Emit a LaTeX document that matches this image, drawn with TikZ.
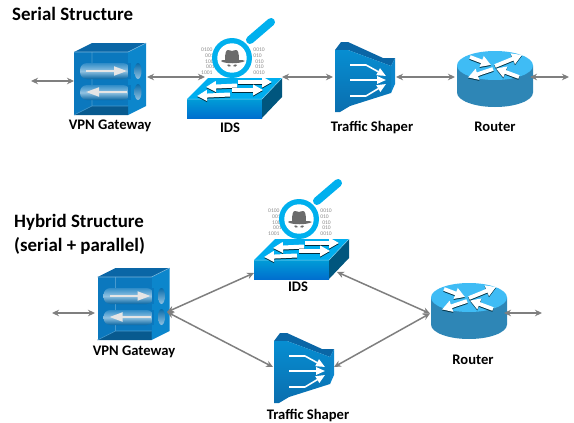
\documentclass[tikz,border=0pt]{standalone}
\usepackage{fontspec}
\setmainfont{Carlito}
\usetikzlibrary{arrows.meta}
\definecolor{conn}{HTML}{7F7F7F}
\definecolor{vfront}{HTML}{0B78BE}
\definecolor{vtop}{HTML}{0A66A6}
\definecolor{vside}{HTML}{0C86CC}
\definecolor{idstop}{HTML}{00AEEF}
\definecolor{idsside}{HTML}{00567E}
\definecolor{rtop}{HTML}{3FBCF5}
\definecolor{rside}{HTML}{2E86B6}
\definecolor{lens}{HTML}{00B0EE}
\definecolor{hatc}{HTML}{6B6B6B}
\tikzset{
  x=1pt,y=-1pt,
  link/.style={draw=conn,line width=1.5pt,{Stealth[length=7pt,width=6.5pt]}-{Stealth[length=7pt,width=6.5pt]}},
  lab/.style={font=\bfseries\fontsize{14.6}{16}\selectfont,inner sep=0pt,text=black},
  ttl/.style={font=\bfseries\fontsize{18.9}{24}\selectfont,inner sep=0pt,anchor=west,text=black,align=left},
  binL/.style={font=\fontsize{5.6}{6}\selectfont,text=black!45,inner sep=0pt,anchor=west},
  binR/.style={font=\fontsize{5.6}{6}\selectfont,text=black!45,inner sep=0pt,anchor=east},
  warrow/.style={draw=white,line width=4pt,-{Triangle[length=10pt,width=10.5pt,fill=white]}},
  sarrow/.style={line width=4pt,-{Triangle[length=10pt,width=10.5pt]}},
  thinw/.style={draw=white,line width=1.6pt,line join=round,-{Triangle[length=9pt,width=7.5pt,fill=white]}},
  vpn/.pic={
    \fill[vtop] (74,52)--(92,43)--(146,43)--(128,52)--cycle;
    \fill[vside] (128,52)--(146,43)--(146,106)--(128,115)--cycle;
    \fill[vfront] (74,52) rectangle (128,115);
    \fill[black!25!vfront] (74,115)--(92,106)--(128,106)--(128,115)--cycle;
    \draw[white!25!vfront,line width=.6pt] (92,52)--(92,106)--(128,106) (92,106)--(74,115);
    \draw[white!45!vfront,line width=.6pt] (74,52)--(128,52)--(146,43);
    \foreach \yy/\hh in {63/16,85/15}{
      \shade[top color=vfront!85!white,bottom color=black!15!vfront,middle color=white!55!vfront,rounded corners=7pt] (80,\yy) rectangle ++(50,\hh);
      \fill[vfront] (128,\yy) rectangle ++(2.5,\hh);
    }
    \shade[top color=black!10!vfront,bottom color=white!55!vfront] (138,71) ellipse[x radius=3.5pt,y radius=8pt];
    \shade[top color=black!10!vfront,bottom color=white!55!vfront] (138,92) ellipse[x radius=3.5pt,y radius=8pt];
    \draw[draw=white!90!black,line width=1.8pt,-{Triangle[length=13pt,width=9pt,fill=white!90!black]}] (86,71)--(127,71);
    \draw[draw=white!90!black,line width=1.8pt,-{Triangle[length=13pt,width=9pt,fill=white!90!black]}] (127,92)--(86,92);
  },
  idsbox/.pic={
    \node[binL] at (201,50) {0100};
    \node[binL] at (205,56) {001};
    \node[binL] at (205,62) {100};
    \node[binL] at (206,67) {001};
    \node[binL] at (201,73) {1001};
    \node[binR] at (265,50) {0010};
    \node[binR] at (262,56) {010};
    \node[binR] at (264,62) {010};
    \node[binR] at (264,67) {010};
    \node[binR] at (265,73) {0010};
    \fill[idstop] (187,99)--(208,78)--(282,78)--(262,99)--cycle;
    \shade[top color=idstop!90!black,bottom color=idstop!75!blue!85!black] (187,99) rectangle (262,118);
    \fill[idsside] (262,99)--(282,78)--(282,97)--(262,118)--cycle;
    \draw[white!50!idstop,line width=.5pt] (187,99)--(262,99)--(282,78);
    \foreach \a/\b/\c/\d in {238/83/272/83,237/86.5/206/88,232/91/263/91,230/95.5/197/97}
      \draw[sarrow,draw=black!75!idstop,fill=black!75!idstop] (\a,\b)--(\c,\d);
    \foreach \a/\b/\c/\d in {238/82/272/82,237/85.5/206/87,232/90/263/90,230/94.5/197/96}
      \draw[warrow] (\a,\b)--(\c,\d);
    \draw[lens,line width=8pt,line cap=round] (250,40)--(271,22);
    \fill[lens] (232,58) circle[radius=20pt];
    \fill[white] (232,58) circle[radius=14.7pt];
    \fill[hatc] (225,60) .. controls (225,53) and (226,50) .. (228,50) .. controls (230,50) and (231,51) .. (232,51) .. controls (233,51) and (234,50) .. (236,50) .. controls (238,50) and (239,53) .. (239,60) .. controls (241,60) and (244,60) .. (245,61) .. controls (240,64) and (224,64) .. (221,61) .. controls (222,60) and (223,60) .. (225,60) -- cycle;
    \fill[hatc] (227,65) .. controls (228,64) and (230,64) .. (231,66) .. controls (229,67) and (228,67) .. (227,65) -- cycle;
    \fill[hatc] (237,65) .. controls (236,64) and (234,64) .. (233,66) .. controls (235,67) and (236,67) .. (237,65) -- cycle;
  },
  shaper/.pic={
    \fill[vtop] (335,50)--(341,42)--(348,42)--(383,58)--(395,58)--(391,66)--(348,50)--cycle;
    \fill[vside] (391,66)--(395,58)--(395,84)--(391,93)--cycle;
    \shade[top color=vfront!60!idstop,bottom color=black!8!vfront] (335,50)--(348,50)--(391,66)--(391,93)--(350,106)--(340,112)--(335,112)--cycle;
    \draw[thinw] (350,65)--(366,65)--(386,76);
    \draw[thinw] (350,80)--(386,80);
    \draw[thinw] (350,96)--(366,96)--(386,84);
  },
  router/.pic={
    \fill[rside] (457,65.5)--(457,92.5) arc[start angle=180,end angle=360,x radius=38pt,y radius=14.5pt]--(533,65.5)--cycle;
    \fill[rtop] (495,65.5) ellipse[x radius=38pt,y radius=14.5pt];
    \foreach \a/\b/\c/\d in {470/57/491/65,519/77/496/68.5,495/66/522/55,493/69/468/77.5}{
      \draw[draw=black!70!idstop,line width=3.8pt,-{Triangle[length=10pt,width=11pt,fill=black!70!idstop]}] (\a,\b+1)--(\c,\d+1);
      \draw[draw=white,line width=3.8pt,-{Triangle[length=10pt,width=11pt,fill=white]}] (\a,\b)--(\c,\d);
    }
  }
}
\begin{document}
\begin{tikzpicture}
\useasboundingbox (0,0) rectangle (574,423);
\node[ttl] (t1) at (12,14) {Serial Structure};
\node[ttl] (t2) at (14,234) {Hybrid Structure\\(serial + parallel)};
\pic at (0,0) {vpn};
\pic at (0,0) {idsbox};
\pic at (0,0) {shaper};
\pic at (0,0) {router};
\node[lab] (lv1) at (110,126) {VPN Gateway};
\node[lab] (li1) at (230,128) {IDS};
\node[lab] (ls1) at (372,128) {Traffic Shaper};
\node[lab] (lr1) at (495,127) {Router};
\coordinate (s0) at (31,81);
\coordinate (v1w) at (74,81);
\coordinate (v1e) at (147,77);
\coordinate (i1w) at (205,77);
\coordinate (i1e) at (282,77);
\coordinate (s1w) at (333,77);
\coordinate (s1e) at (396,77);
\coordinate (r1w) at (455,77);
\coordinate (r1e) at (530,77);
\coordinate (s9) at (569,77);
\draw[link] (s0)--(v1w);
\draw[link] (v1e)--(i1w);
\draw[link] (i1e)--(s1w);
\draw[link] (s1e)--(r1w);
\draw[link] (r1e)--(s9);
\pic at (23.5,225) {vpn};
\pic at (67,161) {idsbox};
\pic at (-61,291) {shaper};
\pic at (-26,232) {router};
\node[lab] (lv2) at (134,352) {VPN Gateway};
\node[lab] (li2) at (298,287) {IDS};
\node[lab] (ls2) at (308,416) {Traffic Shaper};
\node[lab] (lr2) at (473,360) {Router};
\coordinate (h0) at (52,313);
\coordinate (v2w) at (95,313);
\coordinate (v2e) at (167,312);
\coordinate (i2w) at (254,273);
\coordinate (s2w) at (273,367);
\coordinate (i2e) at (337,272);
\coordinate (r2w) at (430,313.5);
\coordinate (s2e) at (334,367);
\coordinate (r2e) at (504,313);
\coordinate (h9) at (542,313);
\draw[link] (h0)--(v2w);
\draw[link] (v2e)--(i2w);
\draw[link] (v2e)--(s2w);
\draw[link] (i2e)--(r2w);
\draw[link] (s2e)--(r2w);
\draw[link] (r2e)--(h9);
\end{tikzpicture}
\end{document}
